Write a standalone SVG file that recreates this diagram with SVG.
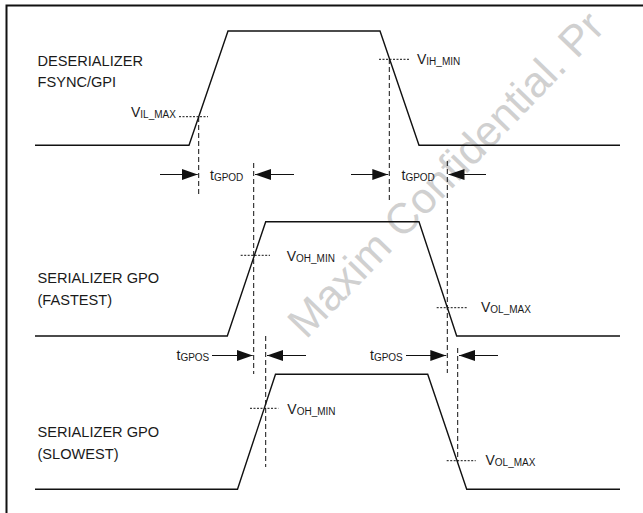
<svg xmlns="http://www.w3.org/2000/svg" width="643" height="513" viewBox="0 0 643 513">
<defs>
<style>
.sig{fill:none;stroke:#111;stroke-width:1.4;stroke-linejoin:miter}
.frame{fill:none;stroke:#111;stroke-width:2}
.dash{fill:none;stroke:#111;stroke-width:1;stroke-dasharray:5,3}
.dot{fill:none;stroke:#111;stroke-width:1;stroke-dasharray:2,1.5}
.arr{fill:none;stroke:#111;stroke-width:1.2;marker-end:url(#ah)}
.lbl{font-family:"Liberation Sans",Arial,sans-serif;font-size:14.6px;fill:#1a1a1a}
.v{font-family:"Liberation Sans",Arial,sans-serif;font-size:14px;fill:#1a1a1a}
.sub{font-size:10px}
.wm{font-family:"Liberation Sans",Arial,sans-serif;font-size:43px;fill:#d0d0d0}
</style>
<marker id="ah" markerUnits="userSpaceOnUse" markerWidth="16" markerHeight="11" refX="16" refY="5.5" orient="auto">
<path d="M0,0 L16,5.5 L0,11 z" fill="#111"/>
</marker>
</defs>
<rect width="643" height="513" fill="#fff"/>
<text class="wm" transform="translate(306,340) rotate(-46)">Maxim Confidential. Pr</text>
<g id="frame">
<path class="frame" d="M6.5,513 V5.5 H643"/>
</g>
<g id="deserializer">
<text class="lbl" x="37.5" y="66">DESERIALIZER</text>
<text class="lbl" x="37.5" y="87">FSYNC/GPI</text>
<path class="sig" d="M35,145.3 H189 L228,31 H380 L419,145.3 H620"/>
<path class="dot" d="M179,116.7 H208"/>
<text class="v" x="131" y="117">V<tspan class="sub" dy="1">IL_MAX</tspan></text>
<path class="dot" d="M379,59.3 H410"/>
<text class="v" x="417" y="64">V<tspan class="sub" dy="1">IH_MIN</tspan></text>
</g>
<g id="gpo-fastest">
<text class="lbl" x="37.5" y="283">SERIALIZER GPO</text>
<text class="lbl" x="37.5" y="305">(FASTEST)</text>
<path class="sig" d="M35,336 H227.3 L265.7,221.7 H419 L456.7,336 H620"/>
<path class="dot" d="M240.7,255.3 H270"/>
<text class="v" x="286.7" y="260.5">V<tspan class="sub" dy="1">OH_MIN</tspan></text>
<path class="dot" d="M436.7,307.7 H466.7"/>
<text class="v" x="481" y="312">V<tspan class="sub" dy="1">OL_MAX</tspan></text>
</g>
<g id="gpo-slowest">
<text class="lbl" x="37.5" y="437">SERIALIZER GPO</text>
<text class="lbl" x="37.5" y="459">(SLOWEST)</text>
<path class="sig" d="M35,489.3 H237.5 L275.5,374.3 H427.7 L466.7,489.3 H620"/>
<path class="dot" d="M250,408.3 H278.3"/>
<text class="v" x="287.3" y="413.5">V<tspan class="sub" dy="1">OH_MIN</tspan></text>
<path class="dot" d="M446.7,460.7 H475.7"/>
<text class="v" x="485.5" y="465">V<tspan class="sub" dy="1">OL_MAX</tspan></text>
</g>
<g id="connectors">
<path class="dash" d="M198.7,117 V197"/>
<path class="dash" d="M253.7,163 V374"/>
<path class="dash" d="M389.3,59 V200"/>
<path class="dash" d="M447.3,161 V373"/>
<path class="dash" d="M265.7,336 V467"/>
<path class="dash" d="M457.7,348 V462"/>
<line class="arr" x1="160" y1="174.5" x2="197.7" y2="174.5"/>
<line class="arr" x1="294" y1="174.5" x2="255" y2="174.5"/>
<line class="arr" x1="351" y1="174.5" x2="388.3" y2="174.5"/>
<line class="arr" x1="486" y1="174.5" x2="448.5" y2="174.5"/>
<line class="arr" x1="212" y1="355.5" x2="252.7" y2="355.5"/>
<line class="arr" x1="306" y1="355.5" x2="267" y2="355.5"/>
<line class="arr" x1="406" y1="355.5" x2="446.3" y2="355.5"/>
<line class="arr" x1="498" y1="355.5" x2="459" y2="355.5"/>
<text class="v" x="210" y="179.5">t<tspan class="sub" dy="1">GPOD</tspan></text>
<text class="v" x="401.5" y="179.5">t<tspan class="sub" dy="1">GPOD</tspan></text>
<text class="v" x="176.5" y="360">t<tspan class="sub" dy="1">GPOS</tspan></text>
<text class="v" x="370" y="360">t<tspan class="sub" dy="1">GPOS</tspan></text>
</g>
</svg>
